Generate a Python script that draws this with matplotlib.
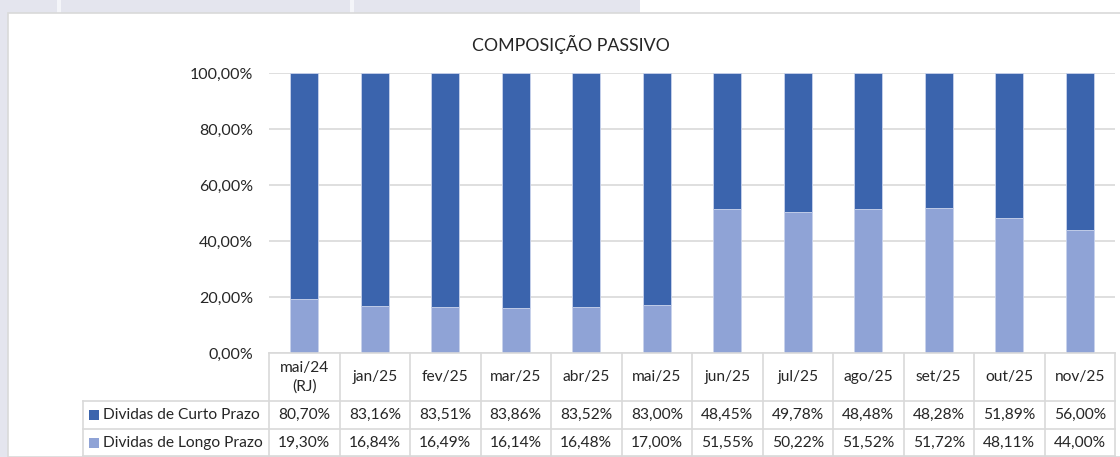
import matplotlib
matplotlib.use("Agg")
import matplotlib.pyplot as plt
from matplotlib.patches import Rectangle
import numpy as np

plt.rcParams['font.family'] = ['Lato', 'DejaVu Sans']

# data
meses = ['mai/24\n(RJ)', 'jan/25', 'fev/25', 'mar/25', 'abr/25', 'mai/25',
         'jun/25', 'jul/25', 'ago/25', 'set/25', 'out/25', 'nov/25']
curto = [80.70, 83.16, 83.51, 83.86, 83.52, 83.00, 48.45, 49.78, 48.48, 48.28, 51.89, 56.00]
longo = [19.30, 16.84, 16.49, 16.14, 16.48, 17.00, 51.55, 50.22, 51.52, 51.72, 48.11, 44.00]
series = ['Dividas de Curto Prazo', 'Dividas de Longo Prazo']

c_curto = '#3B64AD'
c_longo = '#8FA3D6'
grid_c = '#d9d9d9'
txt_c = '#262626'
fs = 11.2

def pct(v):
    return f'{v:.2f}%'.replace('.', ',')

W, H = 1120, 457
fig = plt.figure(figsize=(W / 100, H / 100), dpi=100)
fig.patch.set_facecolor('white')

def fx(x): return x / W
def fy(y): return 1 - y / H

# slide backdrop behind the chart
fig.patches.append(Rectangle((0, fy(13)), fx(640), 13 / H, transform=fig.transFigure,
                             facecolor='#e4e5ee', edgecolor='none', zorder=0))
fig.patches.append(Rectangle((0, 0), fx(8), 1, transform=fig.transFigure,
                             facecolor='#e4e5ee', edgecolor='none', zorder=0))
for xs in (57, 350):
    fig.patches.append(Rectangle((fx(xs), fy(13)), fx(4), 13 / H, transform=fig.transFigure,
                                 facecolor='#f4f5f9', edgecolor='none', zorder=0))
# chart area
fig.patches.append(Rectangle((fx(8), 0), fx(W), fy(13), transform=fig.transFigure,
                             facecolor='white', edgecolor=grid_c, lw=1.2, zorder=1))

left, right, top, bottom = 269, 1115, 73, 353
ax = fig.add_axes([fx(left), fy(bottom), fx(right - left), (bottom - top) / H])
ax.set_facecolor('none')
ax.set_zorder(2)

x = np.arange(len(meses))
ax.bar(x, longo, width=0.4, color=c_longo, edgecolor='#c9d3ec', lw=0.6, zorder=3)
ax.bar(x, curto, width=0.4, bottom=longo, color=c_curto, edgecolor='#c9d3ec', lw=0.6, zorder=3)

ax.set_xlim(-0.5, len(meses) - 0.5)
ax.set_ylim(0, 100)
yt = np.arange(0, 101, 20)
ax.set_yticks(yt)
ax.set_yticklabels([pct(v) for v in yt], fontsize=11.5, color=txt_c)
ax.tick_params(axis='y', length=0, pad=11.5)
ax.set_xticks([])
ax.grid(axis='y', color=grid_c, lw=1.2, zorder=0)
for s in ax.spines.values():
    s.set_visible(False)

fig.text(fx(571), fy(44), 'COMPOSIÇÃO PASSIVO', ha='center', va='center',
         fontsize=12.8, color=txt_c)

# data table under the chart, drawn in pixel coordinates
tx = fig.add_axes([0, 0, 1, 1])
tx.set_xlim(0, W)
tx.set_ylim(H, 0)
tx.axis('off')
tx.set_zorder(4)

n = len(meses)
cw = (right - left) / n
lab_l = 83
rows_y = [bottom, 401, 429, 456]
lk = dict(color=grid_c, lw=1.2)
tx.plot([left, right], [bottom, bottom], **lk)
for yy in rows_y[1:]:
    tx.plot([lab_l, right], [yy, yy], **lk)
tx.plot([lab_l, lab_l], [rows_y[1], rows_y[3]], **lk)
for k in range(n + 1):
    xx = left + k * cw
    tx.plot([xx, xx], [bottom, rows_y[3]], **lk)

for k, m in enumerate(meses):
    xc = left + (k + 0.5) * cw
    tx.text(xc, (rows_y[0] + rows_y[1]) / 2, m, ha='center', va='center',
            fontsize=fs, color=txt_c, linespacing=1.4)
    tx.text(xc, (rows_y[1] + rows_y[2]) / 2, pct(curto[k]), ha='center', va='center',
            fontsize=fs, color=txt_c)
    tx.text(xc, (rows_y[2] + rows_y[3]) / 2, pct(longo[k]), ha='center', va='center',
            fontsize=fs, color=txt_c)

for i, (nome, col) in enumerate(zip(series, [c_curto, c_longo])):
    yc = (rows_y[i + 1] + rows_y[i + 2]) / 2
    tx.add_patch(Rectangle((89, yc - 5), 10, 10, facecolor=col, edgecolor='none'))
    tx.text(103, yc, nome, ha='left', va='center', fontsize=fs, color=txt_c)

fig.savefig('out.png', dpi=100)
